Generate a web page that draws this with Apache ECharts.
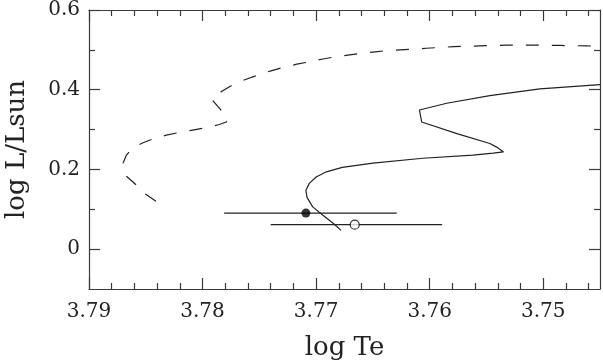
<!DOCTYPE html>
<html><head><meta charset="utf-8">
<script src="https://cdn.jsdelivr.net/npm/echarts@6/dist/echarts.min.js"></script>
<style>html,body{margin:0;padding:0;background:#fff}#c{width:603px;height:361px}</style>
</head><body><div id="c"></div>
<script>
// ---- data ----
const solidX = [3.7678, 3.7685, 3.7694, 3.7703, 3.7708, 3.7709, 3.7706, 3.7700, 3.7691, 3.7677, 3.7650, 3.7606, 3.7562, 3.7544, 3.7535, 3.7541, 3.7547, 3.7576, 3.7607, 3.7609, 3.7585, 3.7547, 3.7503, 3.7450];
const solidY = [0.047, 0.065, 0.085, 0.106, 0.130, 0.148, 0.165, 0.181, 0.194, 0.205, 0.216, 0.228, 0.236, 0.241, 0.244, 0.256, 0.265, 0.290, 0.319, 0.349, 0.366, 0.385, 0.402, 0.413];
const dashX = [3.7841, 3.7850, 3.7858, 3.7867, 3.7870, 3.7867, 3.7864, 3.7854, 3.7844, 3.7832, 3.7820, 3.7810, 3.7798, 3.7786, 3.7779, 3.7778, 3.7785, 3.7792, 3.7783, 3.7773, 3.7761, 3.7751, 3.7739, 3.7729, 3.7717, 3.7706, 3.7694, 3.7682, 3.7672, 3.7660, 3.7648, 3.7638, 3.7626, 3.7603, 3.7579, 3.7556, 3.7532, 3.7509, 3.7485, 3.7462, 3.7450];
const dashY = [0.120, 0.138, 0.160, 0.183, 0.216, 0.236, 0.246, 0.265, 0.276, 0.286, 0.293, 0.298, 0.304, 0.312, 0.319, 0.328, 0.353, 0.376, 0.396, 0.413, 0.427, 0.437, 0.448, 0.456, 0.464, 0.470, 0.477, 0.483, 0.487, 0.491, 0.495, 0.498, 0.500, 0.504, 0.508, 0.510, 0.512, 0.512, 0.511, 0.510, 0.509];
const pointX = [3.7709, 3.7666];
const pointY = [0.0905, 0.0613];
const errLow = [3.7781, 3.7740];
const errHigh = [3.7629, 3.7589];
const xMajor = [3.75, 3.76, 3.77, 3.78, 3.79];
const xMinor = [3.746, 3.748, 3.752, 3.754, 3.756, 3.758, 3.762, 3.764, 3.766, 3.768, 3.772, 3.774, 3.776, 3.778, 3.782, 3.784, 3.786, 3.788];
const yMajor = [0, 0.2, 0.4, 0.6];
const yMinor = [0.1, 0.3, 0.5];
const xRange = [3.745, 3.79];
const yRange = [-0.1, 0.6];

// ---- chart ----
const FONT = 'DejaVu Serif';
const AX = '#3a3a3a';
const INK = '#222';
function axis(kind, position, ticks, len, opts) {
  const o = {
    type: 'value', position: position,
    min: kind === 'x' ? xRange[0] : yRange[0],
    max: kind === 'x' ? xRange[1] : yRange[1],
    inverse: kind === 'x',
    axisLine: { show: !!opts.line, onZero: false, lineStyle: { color: AX, width: 1.2 } },
    axisTick: { show: true, inside: true, length: len, customValues: ticks, lineStyle: { color: AX, width: 1.2 } },
    axisLabel: { show: false },
    splitLine: { show: false }
  };
  if (opts.labels) {
    o.axisLabel = { show: true, customValues: ticks, fontFamily: FONT, fontSize: 20, color: INK, margin: opts.margin };
  }
  if (opts.name) {
    o.name = opts.name; o.nameLocation = 'middle'; o.nameGap = opts.nameGap;
    o.nameTextStyle = { fontFamily: FONT, fontSize: 26, color: INK };
  }
  return o;
}
const chart = echarts.init(document.getElementById('c'), null, { renderer: 'canvas' });
const xy = (xs, ys) => xs.map((x, i) => [x, ys[i]]);
const series = [
  { type: 'line', data: xy(solidX, solidY), showSymbol: false, symbol: 'none', lineStyle: { color: INK, width: 1.2 }, z: 2 },
  { type: 'line', data: xy(dashX, dashY), showSymbol: false, symbol: 'none', lineStyle: { color: INK, width: 1.2, type: [13, 13] }, z: 2 }
];
pointX.forEach((x, i) => {
  series.push({ type: 'line', data: [[errLow[i], pointY[i]], [errHigh[i], pointY[i]]], showSymbol: false, symbol: 'none', lineStyle: { color: INK, width: 1.2 }, z: 3 });
});
series.push({ type: 'scatter', data: [[pointX[0], pointY[0]]], symbol: 'circle', symbolSize: 9, itemStyle: { color: '#000' }, z: 5 });
series.push({ type: 'scatter', data: [[pointX[1], pointY[1]]], symbol: 'circle', symbolSize: 9, itemStyle: { color: '#fff', borderColor: '#000', borderWidth: 1.2 }, z: 5 });

chart.setOption({
  animation: false,
  backgroundColor: '#fff',
  grid: { left: 89, top: 10, width: 511, height: 279, containLabel: false, outerBoundsMode: 'none' },
  xAxis: [
    axis('x', 'bottom', xMajor, 11, { line: true, labels: true, margin: 13, name: 'log Te', nameGap: 46 }),
    axis('x', 'bottom', xMinor, 6, {}),
    axis('x', 'top', xMajor, 11, { line: true }),
    axis('x', 'top', xMinor, 6, {})
  ],
  yAxis: [
    axis('y', 'left', yMajor, 11, { line: true, labels: true, margin: 9, name: 'log L/Lsun', nameGap: 59 }),
    axis('y', 'left', yMinor, 6, {}),
    axis('y', 'right', yMajor, 11, { line: true }),
    axis('y', 'right', yMinor, 6, {})
  ],
  series: series
});
</script></body></html>
